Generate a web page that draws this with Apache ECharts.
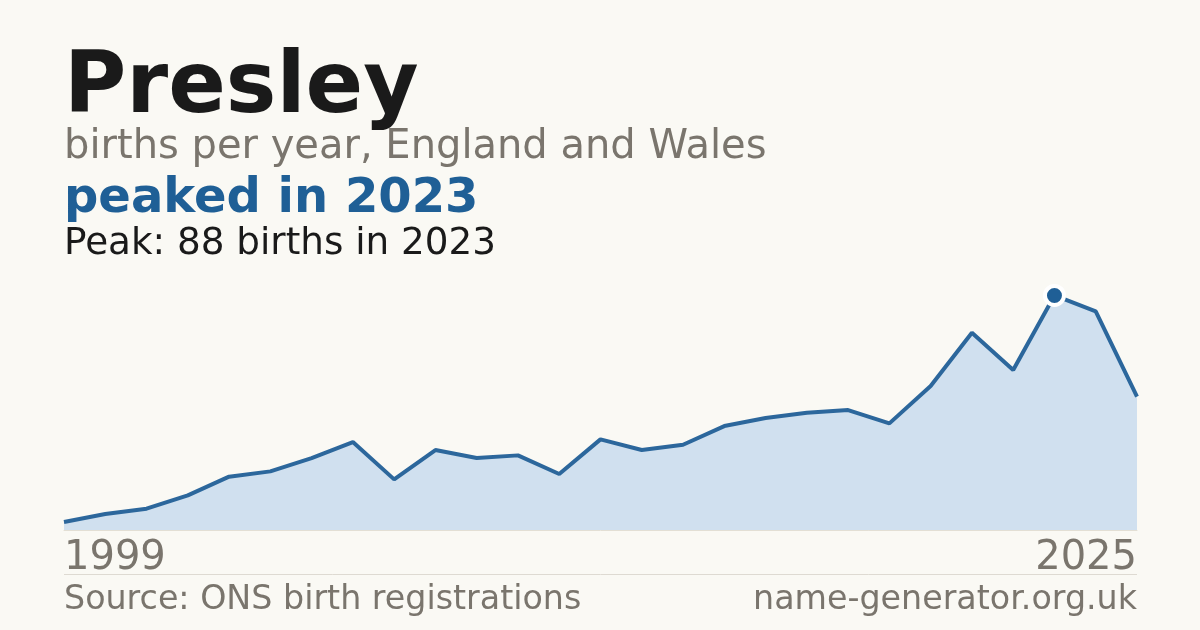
<!DOCTYPE html>
<html>
<head>
<meta charset="utf-8">
<script src="https://cdn.jsdelivr.net/npm/echarts@6/dist/echarts.min.js"></script>
<style>
  html, body { margin: 0; padding: 0; background: #faf9f4; }
  #chart { width: 1200px; height: 630px; }
</style>
</head>
<body>
<div id="chart"></div>
<script>
const years = ['1999','2000','2001','2002','2003','2004','2005','2006','2007','2008','2009','2010','2011','2012','2013','2014','2015','2016','2017','2018','2019','2020','2021','2022','2023','2024','2025'];
const births = [3, 6, 8, 13, 20, 22, 27, 33, 19, 30, 27, 28, 21, 34, 30, 32, 39, 42, 44, 45, 40, 54, 74, 60, 88, 82, 50];
const titleText = 'Presley';
const subtitleText = 'births per year, England and Wales';
const headlineText = 'peaked in 2023';
const peakText = 'Peak: 88 births in 2023';
const sourceText = 'Source: ONS birth registrations';
const siteText = 'name-generator.org.uk';

const peakVal = Math.max(...births);
const peakIdx = births.indexOf(peakVal);
const FONT = "'DejaVu Sans', sans-serif";
const GREY = '#7a756d';
const BLUE = '#1f5f96';

const chart = echarts.init(document.getElementById('chart'), null, { renderer: 'canvas' });
chart.setOption({
  backgroundColor: '#faf9f4',
  animation: false,
  grid: { left: 64, right: 63, top: 272, bottom: 100 },
  xAxis: {
    type: 'category',
    data: years,
    boundaryGap: false,
    axisLine: { show: true, lineStyle: { color: '#e3dfd4', width: 1 } },
    axisTick: { show: false },
    splitLine: { show: false },
    axisLabel: {
      interval: (i) => i === 0 || i === years.length - 1,
      fontFamily: FONT,
      fontSize: 40,
      color: GREY,
      margin: 9,
      alignMinLabel: 'left',
      alignMaxLabel: 'right'
    }
  },
  yAxis: {
    type: 'value', min: 0, max: peakVal * 1.1, show: false,
    splitLine: { show: false }
  },
  series: [
    {
      type: 'line',
      data: births,
      showSymbol: false,
      lineStyle: { color: '#2c679c', width: 4 },
      areaStyle: { color: '#d0e0ef', opacity: 1 },
      z: 2
    },
    {
      type: 'scatter',
      data: [[peakIdx, peakVal]],
      symbol: 'circle',
      symbolSize: 19,
      itemStyle: { color: BLUE, borderColor: '#ffffff', borderWidth: 4, opacity: 1 },
      z: 5
    }
  ],
  graphic: [
    { type: 'text', style: { text: titleText, x: 64, y: 90, font: `bold 85px ${FONT}`, fill: '#1a1a1a', textVerticalAlign: 'middle' } },
    { type: 'text', style: { text: subtitleText, x: 64, y: 148, font: `40px ${FONT}`, fill: GREY, textVerticalAlign: 'middle' } },
    { type: 'text', style: { text: headlineText, x: 64, y: 200, font: `bold 48px ${FONT}`, fill: BLUE, textVerticalAlign: 'middle' } },
    { type: 'text', style: { text: peakText, x: 64, y: 244, font: `37.3px ${FONT}`, fill: '#1a1a1a', textVerticalAlign: 'middle' } },
    { type: 'line', shape: { x1: 64, y1: 574.5, x2: 1137, y2: 574.5 }, style: { stroke: '#dedad2', lineWidth: 1 } },
    { type: 'text', style: { text: sourceText, x: 64, y: 600, font: `33.3px ${FONT}`, fill: GREY, textVerticalAlign: 'middle' } },
    { type: 'text', style: { text: siteText, x: 1137, y: 600, font: `33.3px ${FONT}`, fill: GREY, textAlign: 'right', textVerticalAlign: 'middle' } }
  ]
});
</script>
</body>
</html>
